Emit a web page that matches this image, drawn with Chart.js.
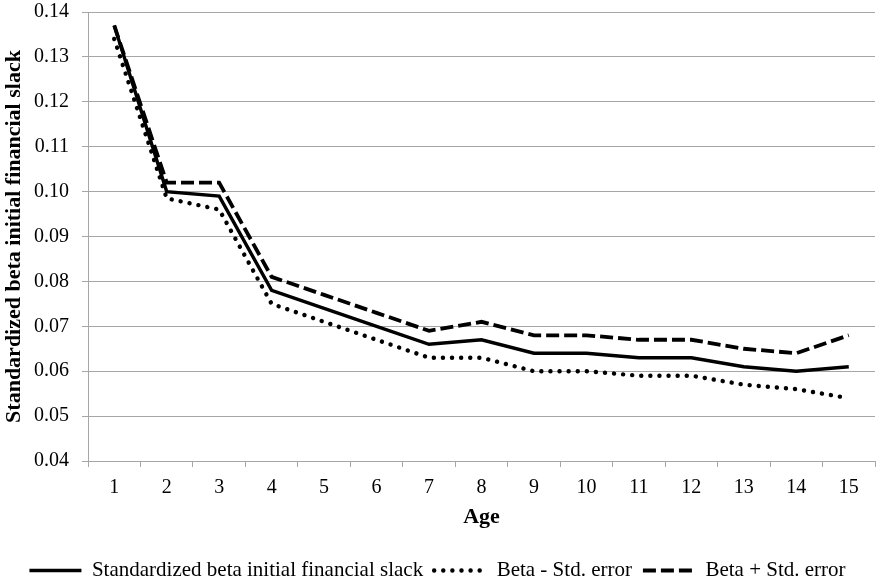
<!DOCTYPE html>
<html>
<head>
<meta charset="utf-8">
<script src="https://cdn.jsdelivr.net/npm/chart.js@4.4.0/dist/chart.umd.min.js"></script>
<style>
  html, body { margin: 0; padding: 0; background: #fff; }
  #wrap { width: 876px; height: 587px; }
</style>
</head>
<body>
<div id="wrap"><canvas id="chart"></canvas></div>
<script>
// ages on the x axis
var ages = ['1', '2', '3', '4', '5', '6', '7', '8', '9', '10', '11', '12', '13', '14', '15'];

// standardized beta and the +/- std. error bands
var betaValues = [0.137, 0.100, 0.099, 0.078, 0.074, 0.070, 0.066, 0.067, 0.064, 0.064, 0.063, 0.063, 0.061, 0.060, 0.061];
var lowerValues = [0.134, 0.0985, 0.096, 0.075, 0.071, 0.067, 0.063, 0.063, 0.060, 0.060, 0.059, 0.059, 0.057, 0.056, 0.054];
var upperValues = [0.137, 0.102, 0.102, 0.081, 0.077, 0.073, 0.069, 0.071, 0.068, 0.068, 0.067, 0.067, 0.065, 0.064, 0.068];

var seriesNames = ['Standardized beta initial financial slack', 'Beta - Std. error', 'Beta + Std. error'];

var gridGray = '#a6a6a6';

Chart.defaults.font.family = "'Liberation Serif', 'Times New Roman', serif";
Chart.defaults.font.size = 20;
Chart.defaults.color = '#000';

var ctx = document.getElementById('chart').getContext('2d');

window.myChart = new Chart(ctx, {
    type: 'line',
    data: {
        labels: ages,
        datasets: [{
            label: seriesNames[0],
            data: betaValues,
            borderColor: '#000',
            backgroundColor: '#000',
            borderWidth: 3.4,
            pointRadius: 0,
            pointStyle: 'line',
            tension: 0
        }, {
            label: seriesNames[1],
            data: lowerValues,
            borderColor: '#000',
            backgroundColor: '#000',
            borderWidth: 4.4,
            borderDash: [0.1, 9],
            borderCapStyle: 'round',
            pointRadius: 0,
            pointStyle: 'line',
            tension: 0
        }, {
            label: seriesNames[2],
            data: upperValues,
            borderColor: '#000',
            backgroundColor: '#000',
            borderWidth: 3.8,
            borderDash: [13, 5],
            pointRadius: 0,
            pointStyle: 'line',
            tension: 0
        }]
    },
    options: {
        responsive: true,
        maintainAspectRatio: false,
        animation: false,
        layout: { padding: { left: 0, right: 1, top: 12, bottom: -4 } },
        plugins: {
            tooltip: { enabled: false },
            legend: {
                position: 'bottom',
                labels: {
                    usePointStyle: true,
                    pointStyleWidth: 52,
                    boxHeight: 21,
                    padding: 11,
                    font: { size: 21 },
                    // legend lines take the dash of their dataset
                    generateLabels: function (chart) {
                        var items = Chart.defaults.plugins.legend.labels.generateLabels(chart);
                        items.forEach(function (item, i) {
                            var ds = chart.data.datasets[i];
                            item.lineDash = ds.borderDash || [];
                            item.lineWidth = ds.borderWidth;
                            item.lineCap = ds.borderCapStyle || 'butt';
                            item.strokeStyle = '#000';
                            item.pointStyle = 'line';
                        });
                        return items;
                    }
                }
            }
        },
        scales: {
            x: {
                offset: true,
                grid: {
                    offset: true,
                    display: true,
                    drawOnChartArea: false,
                    drawTicks: true,
                    tickLength: 6,
                    color: gridGray
                },
                border: { color: gridGray },
                ticks: { padding: 9, maxRotation: 0, autoSkip: false },
                title: {
                    display: true,
                    text: 'Age',
                    font: { weight: 'bold', size: 22 },
                    padding: { top: 0, bottom: 18 }
                },
                afterFit: function (scale) { scale.height = 88; }
            },
            y: {
                min: 0.04,
                max: 0.14,
                ticks: {
                    stepSize: 0.01,
                    padding: 13,
                    callback: function (v) { return v.toFixed(2); }
                },
                grid: { color: gridGray, tickLength: 6 },
                border: { color: gridGray },
                title: {
                    display: true,
                    text: 'Standardized beta initial financial slack',
                    font: { weight: 'bold', size: 22 },
                    padding: { top: 1, bottom: 0 }
                },
                afterFit: function (scale) {
                    scale.width = 88;
                    scale.paddingTop = 0;
                    scale.paddingBottom = 0;
                }
            }
        }
    }
});
</script>
</body>
</html>
